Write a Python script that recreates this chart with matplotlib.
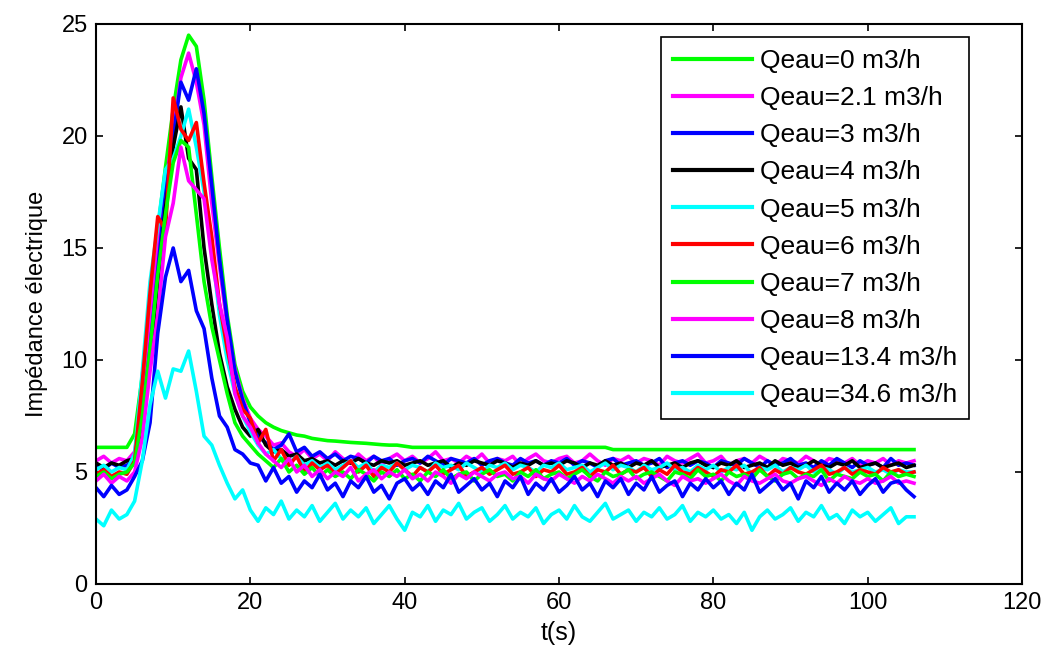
import numpy as np
import matplotlib
matplotlib.use("Agg")
import matplotlib.pyplot as plt

plt.rcParams["font.family"] = ["Liberation Sans", "DejaVu Sans"]

# sample times (s), one reading per second
t = np.arange(0, 107)

labels = ["Qeau=0 m3/h", "Qeau=2.1 m3/h", "Qeau=3 m3/h", "Qeau=4 m3/h",
          "Qeau=5 m3/h", "Qeau=6 m3/h", "Qeau=7 m3/h", "Qeau=8 m3/h",
          "Qeau=13.4 m3/h", "Qeau=34.6 m3/h"]
colors = ["#00ff00", "#ff00ff", "#0000ff", "#000000", "#00ffff",
          "#ff0000", "#00ff00", "#ff00ff", "#0000ff", "#00ffff"]

q_0 = [6.1, 6.1, 6.1, 6.1, 6.1, 6.7, 9.3, 12.7, 15.8, 18.6,
       21.2, 23.4, 24.5, 24.0, 21.6, 18.2, 15.0, 12.0, 9.8, 8.6,
       7.9, 7.5, 7.2, 7.0, 6.85, 6.75, 6.65, 6.6, 6.5, 6.45,
       6.4, 6.38, 6.35, 6.32, 6.3, 6.28, 6.25, 6.22, 6.2, 6.2,
       6.15, 6.1, 6.1, 6.1, 6.1, 6.1, 6.1, 6.1, 6.1, 6.1,
       6.1, 6.1, 6.1, 6.1, 6.1, 6.1, 6.1, 6.1, 6.1, 6.1,
       6.1, 6.1, 6.1, 6.1, 6.1, 6.1, 6.1, 6.0, 6.0, 6.0,
       6.0, 6.0, 6.0, 6.0, 6.0, 6.0, 6.0, 6.0, 6.0, 6.0,
       6.0, 6.0, 6.0, 6.0, 6.0, 6.0, 6.0, 6.0, 6.0, 6.0,
       6.0, 6.0, 6.0, 6.0, 6.0, 6.0, 6.0, 6.0, 6.0, 6.0,
       6.0, 6.0, 6.0, 6.0, 6.0, 6.0, 6.0]

q_2_1 = [5.5, 5.7, 5.4, 5.6, 5.5, 5.9, 8.0, 11.5, 15.0, 17.8,
         20.2, 22.6, 23.7, 22.4, 20.5, 17.0, 14.2, 11.5, 9.6, 8.3,
         7.4, 6.9, 6.6, 6.2, 6.3, 5.9, 5.7, 6.0, 5.6, 5.8,
         5.5, 5.9, 5.6, 5.4, 5.8, 5.5, 5.7, 5.3, 5.6, 5.8,
         5.5, 5.7, 5.4, 5.6, 5.9, 5.5, 5.6, 5.4, 5.7, 5.5,
         5.8, 5.4, 5.6, 5.5, 5.7, 5.3, 5.6, 5.8, 5.5, 5.4,
         5.6, 5.7, 5.4, 5.5, 5.8, 5.5, 5.3, 5.6, 5.5, 5.7,
         5.4, 5.6, 5.5, 5.3, 5.7, 5.5, 5.4, 5.6, 5.8, 5.4,
         5.5, 5.7, 5.3, 5.5, 5.6, 5.4, 5.7, 5.5, 5.3, 5.6,
         5.5, 5.4, 5.7, 5.5, 5.3, 5.6, 5.5, 5.4, 5.6, 5.3,
         5.5, 5.4, 5.6, 5.3, 5.5, 5.4, 5.5]

q_3 = [5.3, 5.1, 5.4, 5.2, 5.3, 5.6, 7.5, 10.5, 14.0, 17.5,
       20.0, 22.4, 21.6, 23.0, 21.0, 17.8, 14.5, 11.8, 9.5, 8.2,
       7.2, 6.6, 6.3, 6.0, 6.2, 6.7, 5.9, 6.1, 5.7, 5.9,
       5.6, 5.8, 5.5, 5.7, 5.6, 5.4, 5.7, 5.5, 5.6, 5.3,
       5.5, 5.6, 5.4, 5.7, 5.5, 5.3, 5.6, 5.5, 5.4, 5.6,
       5.3, 5.5, 5.6, 5.4, 5.3, 5.6, 5.4, 5.5, 5.3, 5.5,
       5.4, 5.6, 5.3, 5.5, 5.4, 5.2, 5.5, 5.6, 5.3, 5.4,
       5.5, 5.3, 5.4, 5.6, 5.2, 5.4, 5.5, 5.3, 5.5, 5.4,
       5.2, 5.5, 5.4, 5.3, 5.6, 5.4, 5.2, 5.5, 5.3, 5.4,
       5.6, 5.3, 5.4, 5.2, 5.5, 5.3, 5.6, 5.4, 5.2, 5.5,
       5.3, 5.4, 5.2, 5.6, 5.3, 5.4, 5.3]

q_4 = [5.4, 5.2, 5.4, 5.3, 5.5, 5.6, 7.2, 10.0, 13.5, 16.8,
       19.5, 21.3, 19.0, 18.5, 15.0, 12.5, 10.3, 8.8, 7.8, 7.0,
       6.6, 6.9, 6.2, 5.9, 6.0, 5.7, 5.8, 5.5, 5.6, 5.4,
       5.5, 5.3, 5.5, 5.4, 5.6, 5.4, 5.3, 5.5, 5.4, 5.5,
       5.3, 5.4, 5.5, 5.3, 5.4, 5.5, 5.2, 5.4, 5.3, 5.5,
       5.4, 5.3, 5.5, 5.4, 5.2, 5.4, 5.3, 5.5, 5.3, 5.4,
       5.3, 5.5, 5.4, 5.2, 5.4, 5.3, 5.5, 5.3, 5.4, 5.2,
       5.4, 5.3, 5.5, 5.2, 5.3, 5.4, 5.2, 5.4, 5.5, 5.3,
       5.2, 5.4, 5.3, 5.5, 5.2, 5.3, 5.4, 5.2, 5.5, 5.3,
       5.4, 5.2, 5.3, 5.5, 5.3, 5.2, 5.4, 5.3, 5.5, 5.2,
       5.3, 5.4, 5.2, 5.3, 5.4, 5.2, 5.3]

q_5 = [5.1, 5.3, 5.0, 5.2, 5.1, 5.8, 9.5, 13.5, 16.0, 18.5,
       19.0, 20.0, 21.2, 19.5, 17.5, 15.0, 12.0, 10.0, 8.5, 7.5,
       6.8, 6.2, 5.8, 6.0, 5.6, 5.4, 5.7, 5.3, 5.5, 5.2,
       5.4, 5.1, 5.3, 5.5, 5.2, 5.4, 5.0, 5.3, 5.2, 5.4,
       5.1, 5.3, 5.2, 5.0, 5.4, 5.2, 5.3, 5.1, 5.4, 5.2,
       5.0, 5.3, 5.2, 5.4, 5.1, 5.3, 5.2, 5.0, 5.3, 5.2,
       5.4, 5.1, 5.2, 5.3, 5.0, 5.2, 5.4, 5.1, 5.3, 5.2,
       5.0, 5.3, 5.1, 5.2, 5.4, 5.1, 5.2, 5.0, 5.3, 5.1,
       5.3, 5.0, 5.2, 5.1, 5.3, 4.9, 5.2, 5.1, 5.3, 5.0,
       5.2, 5.1, 5.3, 5.0, 5.2, 5.1, 4.9, 5.2, 5.0, 5.1,
       5.2, 5.0, 5.1, 4.9, 5.1, 5.0, 5.0]

q_6 = [4.9, 5.1, 4.8, 5.0, 4.9, 5.5, 9.0, 13.0, 16.4, 15.8,
       21.7, 20.3, 19.8, 20.6, 17.9, 15.5, 12.5, 10.5, 8.8, 7.8,
       7.4, 6.3, 6.9, 5.5, 6.0, 5.3, 5.7, 5.0, 5.4, 5.1,
       5.3, 4.9, 5.2, 5.5, 5.0, 5.3, 4.8, 5.2, 5.0, 5.4,
       5.1, 4.8, 5.2, 5.0, 5.3, 4.9, 5.1, 5.3, 4.8, 5.0,
       5.2, 4.9, 5.1, 5.3, 4.9, 5.0, 5.2, 4.8, 5.1, 5.0,
       5.3, 4.9, 5.0, 5.2, 4.8, 5.1, 5.0, 5.3, 4.9, 5.1,
       5.0, 5.2, 4.8, 5.1, 4.9, 5.3, 5.0, 4.9, 5.2, 5.0,
       4.8, 5.1, 5.0, 5.3, 4.9, 5.0, 5.2, 4.8, 5.1, 4.9,
       5.2, 5.0, 4.9, 5.1, 5.3, 4.9, 5.0, 5.2, 4.9, 5.1,
       5.0, 4.9, 5.2, 5.0, 5.1, 4.9, 5.0]

q_7 = [4.8, 5.0, 4.7, 4.9, 5.0, 5.4, 7.5, 10.5, 13.8, 16.5,
       18.8, 19.8, 19.5, 16.5, 13.5, 11.5, 10.0, 8.5, 7.2, 6.6,
       6.2, 5.8, 5.5, 5.2, 5.6, 5.0, 5.3, 4.9, 5.2, 4.8,
       5.1, 4.8, 5.0, 4.7, 5.1, 4.9, 4.6, 5.0, 4.8, 5.1,
       4.7, 4.9, 4.6, 5.0, 4.8, 5.1, 4.7, 4.9, 5.0, 4.6,
       4.9, 5.1, 4.8, 4.9, 4.6, 5.0, 4.8, 5.1, 4.7, 4.9,
       5.0, 4.7, 4.9, 5.1, 4.8, 4.6, 5.0, 4.8, 4.9, 5.1,
       4.7, 4.9, 5.0, 4.8, 4.6, 5.0, 4.9, 4.7, 5.1, 4.8,
       4.9, 4.6, 5.0, 4.8, 4.9, 4.7, 5.1, 4.8, 4.6, 4.9,
       5.0, 4.7, 4.9, 4.8, 5.1, 4.6, 4.9, 4.8, 4.7, 5.0,
       4.8, 4.9, 4.6, 5.0, 4.8, 4.9, 4.8]

q_8 = [4.6, 4.9, 4.5, 4.8, 4.6, 5.0, 6.5, 9.5, 12.0, 15.5,
       17.0, 19.5, 18.0, 17.6, 17.2, 14.5, 12.5, 11.0, 8.5, 7.5,
       7.0, 6.3, 5.8, 5.5, 5.2, 5.6, 5.0, 5.3, 4.8, 5.1,
       4.7, 5.0, 4.8, 5.2, 4.6, 4.9, 5.1, 4.7, 5.0, 4.8,
       5.1, 4.7, 4.9, 4.6, 5.0, 4.8, 4.5, 4.9, 4.7, 5.0,
       4.8, 4.6, 4.9, 5.0, 4.7, 4.8, 4.5, 4.9, 4.7, 4.6,
       4.9, 4.7, 4.5, 4.8, 4.6, 4.9, 4.7, 4.5, 4.8, 4.6,
       4.8, 4.5, 4.7, 4.9, 4.6, 4.4, 4.8, 4.6, 4.7, 4.5,
       4.7, 4.9, 4.6, 4.4, 4.8, 4.6, 4.5, 4.7, 4.9, 4.6,
       4.5, 4.7, 4.8, 4.6, 4.4, 4.7, 4.5, 4.8, 4.6, 4.5,
       4.7, 4.5, 4.6, 4.8, 4.5, 4.6, 4.5]

q_13_4 = [4.3, 3.9, 4.4, 4.0, 4.2, 4.8, 5.5, 7.2, 11.2, 13.7,
          15.0, 13.5, 14.0, 12.2, 11.4, 9.2, 7.5, 7.0, 6.0, 5.8,
          5.4, 5.3, 4.6, 5.2, 4.5, 4.8, 4.1, 4.6, 4.3, 4.9,
          4.2, 4.5, 3.9, 4.6, 4.3, 4.8, 4.1, 4.4, 3.8, 4.5,
          4.7, 4.2, 4.5, 4.0, 4.6, 4.3, 4.9, 4.1, 4.4, 4.7,
          4.2, 4.5, 3.9, 4.6, 4.3, 4.8, 4.0, 4.5, 4.2, 4.7,
          4.1, 4.4, 4.8, 4.2, 4.5, 3.9, 4.6, 4.3, 4.7, 4.0,
          4.5, 4.2, 4.8, 4.1, 4.4, 4.6, 3.9, 4.5, 4.2, 4.7,
          4.3, 4.6, 4.0, 4.5, 4.2, 4.9, 4.1, 4.4, 4.7, 4.2,
          4.5, 3.8, 4.6, 4.3, 4.8, 4.1, 4.5, 4.2, 4.6, 4.0,
          4.4, 4.7, 4.1, 4.5, 4.6, 4.2, 3.9]

q_34_6 = [2.9, 2.6, 3.3, 2.9, 3.1, 3.7, 5.5, 8.0, 9.5, 8.3,
          9.6, 9.5, 10.4, 8.6, 6.6, 6.2, 5.3, 4.5, 3.8, 4.2,
          3.3, 2.8, 3.4, 3.1, 3.7, 2.9, 3.3, 3.0, 3.5, 2.8,
          3.2, 3.6, 2.9, 3.3, 3.0, 3.4, 2.7, 3.1, 3.5, 2.9,
          2.4, 3.2, 3.0, 3.5, 2.8, 3.3, 3.1, 3.6, 2.9, 3.2,
          3.4, 2.8, 3.1, 3.5, 2.9, 3.2, 3.0, 3.4, 2.7, 3.1,
          3.3, 2.9, 3.5, 3.0, 2.8, 3.2, 3.6, 2.9, 3.1, 3.3,
          2.8, 3.2, 3.0, 3.4, 2.9, 3.1, 3.5, 2.8, 3.2, 3.0,
          3.3, 2.9, 3.1, 2.7, 3.2, 2.4, 3.0, 3.3, 2.9, 3.1,
          3.4, 2.8, 3.2, 3.0, 3.5, 2.9, 3.1, 2.7, 3.3, 3.0,
          3.2, 2.8, 3.1, 3.4, 2.7, 3.0, 3.0]

series = [q_0, q_2_1, q_3, q_4, q_5, q_6, q_7, q_8, q_13_4, q_34_6]

fig = plt.figure(figsize=(10.46, 6.52), dpi=100)
ax = fig.add_axes([0.0918, 0.1043, 0.8853, 0.8589])

for y, c, lab in zip(series, colors, labels):
    ax.plot(t, y, color=c, linewidth=2.6, label=lab)

ax.set_xlim(0, 120)
ax.set_ylim(0, 25)
ax.set_xticks(np.arange(0, 121, 20))
ax.set_yticks(np.arange(0, 26, 5))
ax.tick_params(direction="in", top=True, right=True, length=5,
               width=1.2, labelsize=17, pad=6)
for s in ax.spines.values():
    s.set_linewidth(1.5)

ax.set_xlabel("t(s)", fontsize=18, labelpad=5)
ax.set_ylabel("Impédance électrique", fontsize=17, labelpad=10)

leg = ax.legend(loc="upper right", bbox_to_anchor=(0.943, 0.977),
                borderaxespad=0, fontsize=19, fancybox=False,
                edgecolor="black", framealpha=1, handlelength=3.0,
                handletextpad=0.3, labelspacing=0.5, borderpad=0.45)
leg.get_frame().set_linewidth(1.2)
for line in leg.get_lines():
    line.set_linewidth(3)

fig.savefig("out.png", dpi=100)
